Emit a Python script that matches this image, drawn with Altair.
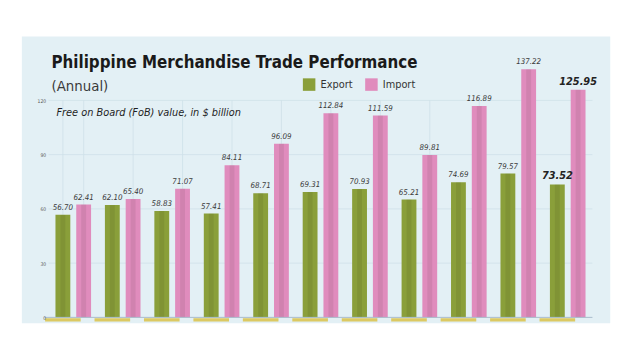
import altair as alt
import pandas as pd

years = ["2013", "2014", "2015", "2016", "2017", "2018", "2019", "2020", "2021", "2022", "2023"]
export_vals = [56.70, 62.10, 58.83, 57.41, 68.71, 69.31, 70.93, 65.21, 74.69, 79.57, 73.52]
import_vals = [62.41, 65.40, 71.07, 84.11, 96.09, 112.84, 111.59, 89.81, 116.89, 137.22, 125.95]
series_names = ["Export", "Import"]
y_ticks = [0, 30, 60, 90, 120]

rows = []
for i, yr in enumerate(years):
    rows.append({"year": yr, "series": "Export", "value": export_vals[i], "label": f"{export_vals[i]:.2f}"})
    rows.append({"year": yr, "series": "Import", "value": import_vals[i], "label": f"{import_vals[i]:.2f}"})
df = pd.DataFrame(rows)
tick_df = pd.DataFrame({"tick": y_ticks[1:]})

FONT = "DejaVu Sans Condensed, Roboto Condensed, Roboto, sans-serif"
GREEN = "#8a9f3a"
PINK = "#e08cbd"
PANEL = "#e3f0f5"
YELLOW = "#d9b823"
GRID = "#cfe0e8"

x_enc = alt.X("year:N", axis=None, scale=alt.Scale(paddingInner=0.28, paddingOuter=0.14))
xo_enc = alt.XOffset("series:N", scale=alt.Scale(paddingInner=0.286, paddingOuter=0))
y_scale = alt.Scale(domain=[0, 140], nice=False)

one = alt.Data(values=[{"a": 1}])
base = alt.Chart(df)

panel = alt.Chart(one).mark_rect(color=PANEL).encode(
    x=alt.value(-27), x2=alt.value(568), y=alt.value(-28), y2=alt.value(262)
)

hgrid = alt.Chart(tick_df).mark_rule(color=GRID, strokeWidth=0.8).encode(
    y=alt.Y("tick:Q", scale=y_scale)
)

bars = base.mark_bar().encode(
    x=x_enc,
    xOffset=xo_enc,
    y=alt.Y("value:Q", scale=y_scale, title=None,
            axis=alt.Axis(values=y_ticks, domain=False, ticks=False, grid=False, zindex=1,
                          labelFontSize=5, labelColor="#555", labelPadding=3, labelFont=FONT)),
    color=alt.Color("series:N",
                    scale=alt.Scale(domain=series_names, range=[GREEN, PINK]),
                    legend=alt.Legend(title=None, orient="none", legendX=257, legendY=14,
                                      direction="horizontal", symbolType="square",
                                      symbolSize=160, symbolStrokeWidth=0, symbolOpacity=1,
                                      labelFont=FONT, labelFontSize=11, labelColor="#333",
                                      columnPadding=12, labelOffset=5, padding=0)),
)

shade = base.mark_bar(width=5, xOffset=4.5, color="#000000", opacity=0.07).encode(
    x=x_enc, xOffset=xo_enc, y=alt.Y("value:Q", scale=y_scale)
)

labels = base.mark_text(
    font=FONT, fontStyle="italic", fontSize=8, color="#3a3a3a", baseline="bottom", dy=-3
).encode(
    x=x_enc, xOffset=xo_enc, y=alt.Y("value:Q", scale=y_scale), text="label:N"
).transform_filter(alt.datum.year != "2023")

labels_last = base.mark_text(
    font=FONT, fontStyle="italic", fontWeight="bold", fontSize=11, color="#222",
    baseline="bottom", dy=-3
).encode(
    x=x_enc, xOffset=xo_enc, y=alt.Y("value:Q", scale=y_scale), text="label:N"
).transform_filter(alt.datum.year == "2023")

vgrid_r = base.mark_rule(color=GRID, strokeWidth=0.8, xOffset=14.5).encode(
    x=x_enc, xOffset=xo_enc, y=alt.datum(0), y2=alt.datum(120)
).transform_filter(alt.datum.series == "Import")

vgrid_l = base.mark_rule(color=GRID, strokeWidth=0.8, xOffset=-14.5).encode(
    x=x_enc, xOffset=xo_enc, y=alt.datum(0), y2=alt.datum(120)
).transform_filter((alt.datum.series == "Export") & (alt.datum.year == "2013"))

zero_line = alt.Chart(one).mark_rule(color="#a9bccb", strokeWidth=1).encode(
    x=alt.value(-4), x2=alt.value(550), y=alt.datum(0)
)

strips = base.mark_tick(color=YELLOW, size=36, thickness=3.5, xOffset=10.5, yOffset=2.5,
                        orient="horizontal").encode(
    x=x_enc, xOffset=xo_enc, y=alt.datum(0)
).transform_filter(alt.datum.series == "Export")

title = alt.Chart(one).mark_text(
    text="Philippine Merchandise Trade Performance", font=FONT, fontWeight="bold",
    fontSize=17, align="left", baseline="alphabetic", color="#1a1a1a"
).encode(x=alt.value(3), y=alt.value(4))

subtitle = alt.Chart(one).mark_text(
    text="(Annual)", font=FONT, fontSize=15, align="left", baseline="alphabetic", color="#3a3a3a"
).encode(x=alt.value(3), y=alt.value(27))

note = alt.Chart(one).mark_text(
    text="Free on Board (FoB) value, in $ billion", font=FONT, fontStyle="italic",
    fontSize=11, align="left", baseline="alphabetic", color="#1e1e1e"
).encode(x=alt.value(8), y=alt.value(52))

chart = alt.layer(
    panel, hgrid, vgrid_l, vgrid_r, bars, shade, zero_line, strips, labels, labels_last,
    title, subtitle, note
).properties(
    width=550, height=256, autosize="none",
    padding={"left": 41, "top": 55, "right": 40, "bottom": 20},
    background="white"
).configure_view(strokeWidth=0)

chart.save("out.html", embed_options={"renderer": "svg", "actions": False})
